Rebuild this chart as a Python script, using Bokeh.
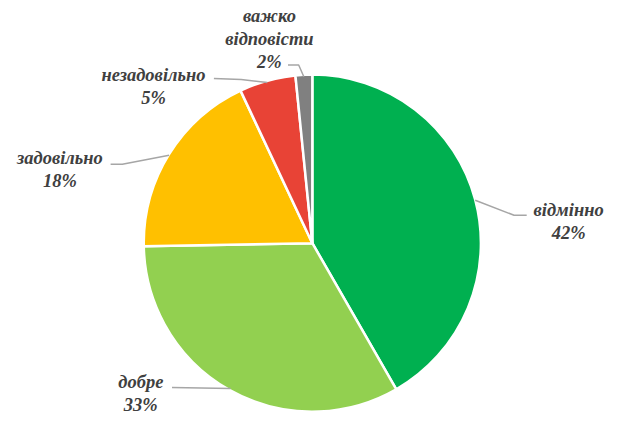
import numpy as np
from bokeh.plotting import figure
from bokeh.models import Range1d, ColumnDataSource
from bokeh.core.properties import value
from bokeh.embed import file_html
from bokeh.resources import INLINE

# ---- data ----
categories = ["відмінно", "добре", "задовільно", "незадовільно", "важко відповісти"]
shares = [41.7, 33.0, 18.3, 5.4, 1.6]          # percent
colors = ["#00B050", "#92D050", "#FFC000", "#E84336", "#808080"]

# ---- layout (reference pixel coordinates, y downwards) ----
W, H = 626, 432
CX, CY, R = 320, 252, 173
# label block centres
label_pos = [(583, 229), (144, 408), (61, 176), (157, 89), (276, 40)]
# leader: elbow point and end point near the label
leader_pts = [[(527, 223), (540, 223)],
              [(236, 403), (176, 402)],
              [(125, 170), (113, 170)],
              [(247, 82), (219, 81)],
              [(306, 67), (295, 67)]]

def fy(y):
    return H - y

p = figure(width=610, height=416, output_backend="svg", toolbar_location=None,
           x_range=Range1d(0, W), y_range=Range1d(0, H),
           min_border=0)
p.axis.visible = False
p.grid.visible = False
p.outline_line_color = None
p.background_fill_color = "white"
p.border_fill_color = "white"

frac = np.array(shares) / sum(shares)
cum = np.concatenate([[0], np.cumsum(frac)])
theta0 = cum[:-1] * 2 * np.pi
theta1 = cum[1:] * 2 * np.pi
src = ColumnDataSource(dict(
    start=np.pi / 2 - theta0,
    end=np.pi / 2 - theta1,
    color=colors,
))
p.wedge(x=CX, y=fy(CY), radius=R, start_angle="start", end_angle="end",
        direction="clock", fill_color="color", line_color="white",
        line_width=2.5, source=src)

# leader lines
mid = (theta0 + theta1) / 2
for i, m in enumerate(mid):
    ex = CX + R * np.sin(m)
    ey = CY - R * np.cos(m)
    xs = [ex] + [pt[0] for pt in leader_pts[i]]
    ys = [fy(ey)] + [fy(pt[1]) for pt in leader_pts[i]]
    p.line(xs, ys, line_color="#A6A6A6", line_width=1.5)

# labels
texts = [c.replace(" ", "\n") + "\n" + f"{round(s)}%" for c, s in zip(categories, shares)]
p.text(x=[lp[0] for lp in label_pos], y=[fy(lp[1]) for lp in label_pos], text=texts,
       text_font=value("Liberation Serif"), text_font_style="bold italic",
       text_font_size="18.5px", text_color="#404040", text_align="center",
       text_baseline="middle", text_line_height=1.15)

open("out.html", "w").write(file_html(p, INLINE))
